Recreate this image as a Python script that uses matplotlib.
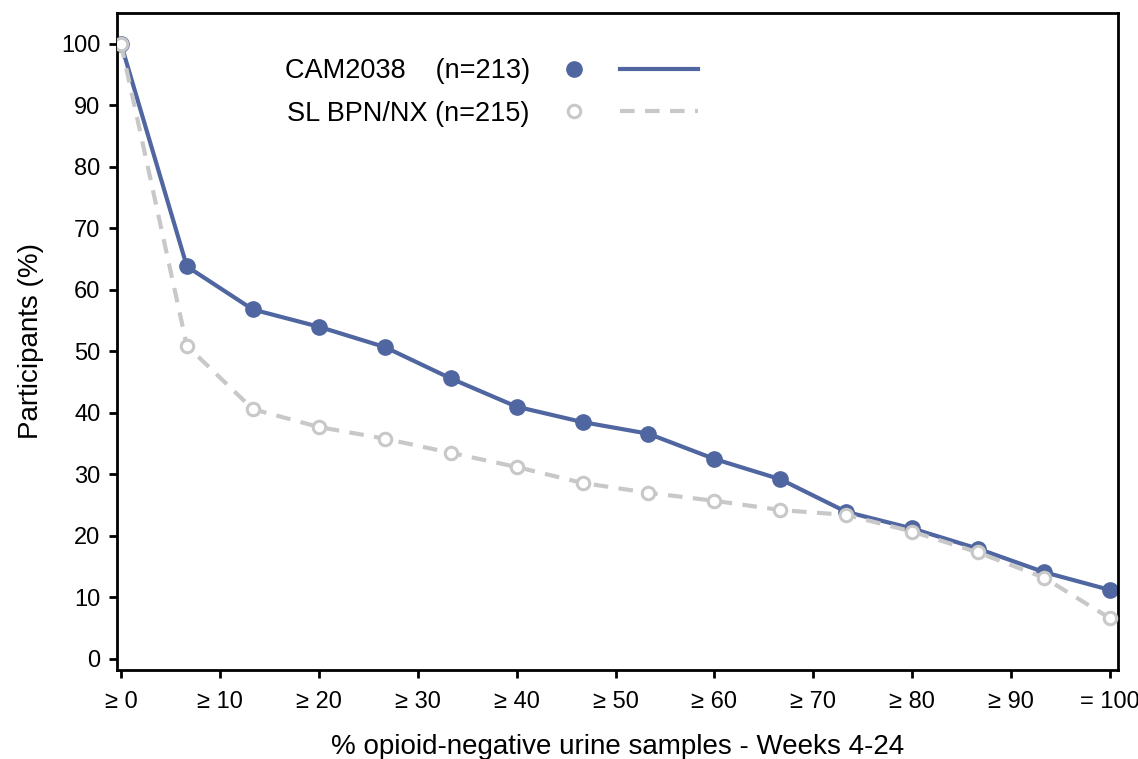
import numpy as np
import matplotlib
matplotlib.use("Agg")
import matplotlib.pyplot as plt
from matplotlib.lines import Line2D
from matplotlib.legend_handler import HandlerTuple

plt.rcParams['font.family'] = ['Liberation Sans', 'DejaVu Sans']

# x positions: 16 thresholds from 0 to 100 in steps of 100/15
x_steps = np.arange(16) * 100 / 15

cam2038 = [100, 63.8, 56.8, 54.0, 50.7, 45.6, 41.0, 38.5, 36.6, 32.5,
           29.2, 23.9, 21.2, 17.9, 14.1, 11.2]
sl_bpn_nx = [100, 50.9, 40.6, 37.7, 35.8, 33.5, 31.2, 28.6, 27.0, 25.7,
             24.2, 23.4, 20.7, 17.3, 13.2, 6.6]

x_ticks = [0, 10, 20, 30, 40, 50, 60, 70, 80, 90, 100]
x_tick_labels = ["≥ 0", "≥ 10", "≥ 20", "≥ 30", "≥ 40", "≥ 50",
                 "≥ 60", "≥ 70", "≥ 80", "≥ 90", "= 100"]
y_ticks = [0, 10, 20, 30, 40, 50, 60, 70, 80, 90, 100]

blue = '#4f66a0'
grey = '#c8c8c8'
dash = (0, (3.5, 2.5))

fig = plt.figure(figsize=(11.38, 7.59), dpi=100)
ax = fig.add_axes([0.1028, 0.1173, 0.8796, 0.8656])

ax.plot(x_steps, cam2038, color=blue, linewidth=3, marker='o',
        markersize=11, markerfacecolor=blue, markeredgecolor=blue, zorder=2)
ax.plot(x_steps, sl_bpn_nx, color=grey, linewidth=3, linestyle=dash,
        marker='o', markersize=9, markerfacecolor='white',
        markeredgecolor=grey, markeredgewidth=2.2, zorder=3)

ax.set_xlim(-0.4, 100.8)
ax.set_ylim(-1.8, 105)
ax.set_xticks(x_ticks)
ax.set_xticklabels(x_tick_labels)
ax.set_yticks(y_ticks)
ax.tick_params(axis='both', labelsize=17, length=6, width=2, direction='out')
ax.tick_params(axis='x', pad=9)
ax.tick_params(axis='y', pad=6)
for spine in ax.spines.values():
    spine.set_linewidth(2)

ax.set_xlabel("% opioid-negative urine samples - Weeks 4-24", fontsize=20, labelpad=15)
ax.set_ylabel("Participants (%)", fontsize=20, labelpad=12)

# legend: text first, then marker and line side by side
cam_marker = Line2D([], [], color=blue, marker='o', markersize=11, linestyle='none')
cam_line = Line2D([], [], color=blue, linewidth=3)
sl_marker = Line2D([], [], color=grey, marker='o', markersize=9, linestyle='none',
                   markerfacecolor='white', markeredgewidth=2.2)
sl_line = Line2D([], [], color=grey, linewidth=3, linestyle=dash)
ax.legend([(cam_marker, cam_line), (sl_marker, sl_line)],
          ["CAM2038    (n=213)", "SL BPN/NX (n=215)"],
          handler_map={tuple: HandlerTuple(ndivide=None, pad=0.3)},
          markerfirst=False, frameon=False, fontsize=19.5, handlelength=6.0,
          handletextpad=0.2, labelspacing=0.6,
          loc='upper left', bbox_to_anchor=(0.143, 0.968))

fig.savefig("out.png", dpi=100)
